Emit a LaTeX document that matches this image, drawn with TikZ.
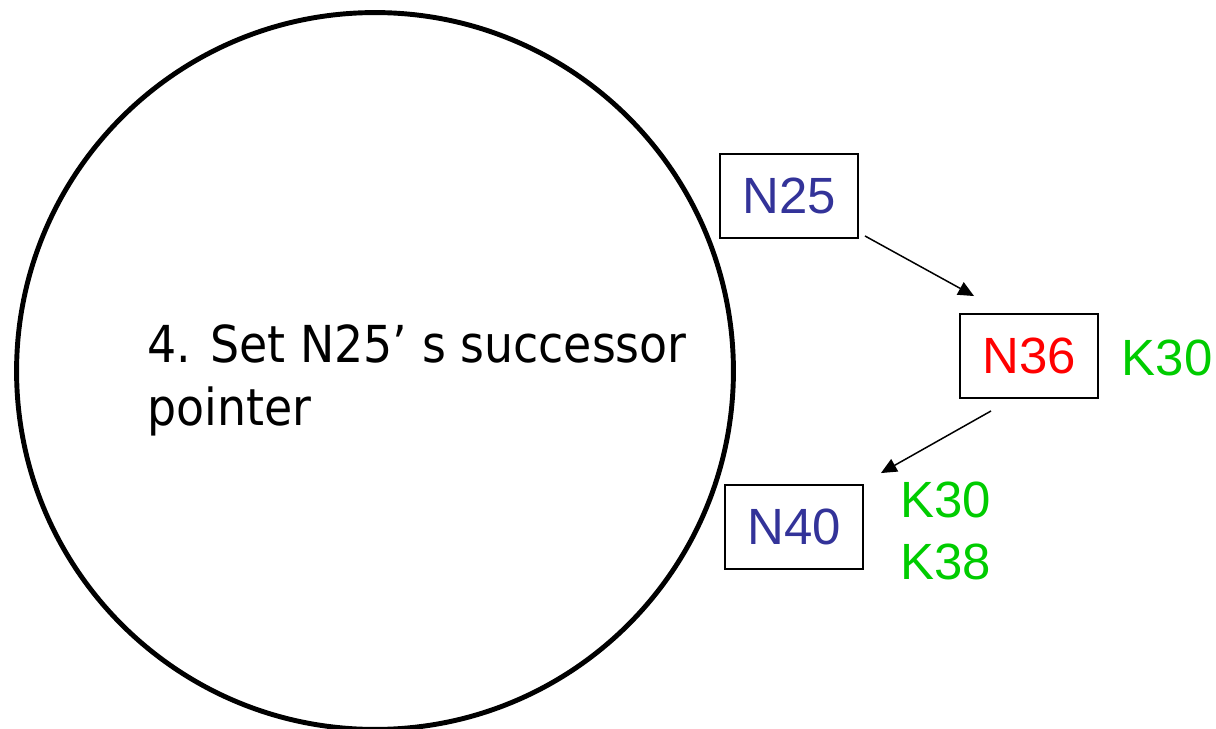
\documentclass[tikz,border=0pt]{standalone}
\usepackage{fontspec}
\setmainfont{Liberation Sans}
\newfontfamily\notefont{DejaVu Sans Condensed}
\usetikzlibrary{arrows.meta}
\definecolor{nodeblue}{RGB}{51,51,153}
\definecolor{keygreen}{RGB}{0,204,0}
\begin{document}
\begin{tikzpicture}[x=0.02cm, y=-0.02cm,
    box/.style={draw, line width=1.1pt, minimum width=2.76cm, minimum height=1.68cm, inner sep=0pt, font=\fontsize{29}{35}\selectfont},
    keys/.style={text=keygreen, font=\fontsize{29}{35.7}\selectfont, align=left, inner sep=0pt},
    ptr/.style={-{Triangle[length=9pt, width=8pt]}, line width=0.85pt}]
  \useasboundingbox (0, 0) rectangle (1216, 729);
  % the ring
  \node[draw, circle, line width=2.8pt, minimum size=14.34cm, inner sep=0pt] (ring) at (375, 371) {};
  \node[anchor=base west, inner sep=0pt, align=left, font=\notefont\fontsize{29}{35.7}\selectfont] (stepnote) at (147, 425) {4. Set N25’ s successor\\pointer};
  % nodes and keys
  \node[box, text=nodeblue] (n25) at (789, 196) {N25};
  \node[box, text=red] (n36) at (1029, 356) {N36};
  \node[box, text=nodeblue] (n40) at (794, 527) {N40};
  \node[keys] (k36) at (1167, 358) {K30};
  \node[keys, anchor=west] (k40) at (900, 531) {K30\\K38};
  % pointers
  \draw[ptr] ([shift={(6,-3)}]n25.south east) -- ([shift={(15,-17)}]n36.north west);
  \draw[ptr] ([shift={(32,12)}]n36.south west) -- ([shift={(17,-11)}]n40.north east);
\end{tikzpicture}
\end{document}
